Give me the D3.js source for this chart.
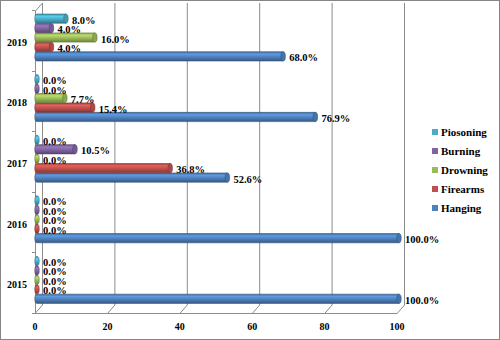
<!DOCTYPE html>
<html>
<head>
<meta charset="utf-8">
<script src="https://cdn.jsdelivr.net/npm/d3@7"></script>
<style>
  body { margin: 0; background: #fff; }
  svg { display: block; }
  text { font-family: "Liberation Serif", "Times New Roman", serif; font-weight: bold; fill: #000; }
</style>
</head>
<body>
<svg id="svg" width="500" height="340"></svg>
<script>
// データ
const years = ["2015", "2016", "2017", "2018", "2019"];
const seriesNames = ["Hanging", "Firearms", "Drowning", "Burning", "Piosoning"];
const hanging = [100.0, 100.0, 52.6, 76.9, 68.0];
const firearms = [0.0, 0.0, 36.8, 15.4, 4.0];
const drowning = [0.0, 0.0, 0.0, 7.7, 16.0];
const burning = [0.0, 0.0, 10.5, 0.0, 4.0];
const piosoning = [0.0, 0.0, 0.0, 0.0, 8.0];
const xTicks = [0, 20, 40, 60, 80, 100];
const colors = ["#4F81BD", "#C0504D", "#9BBB59", "#8064A2", "#4BACC6"];

const values = [hanging, firearms, drowning, burning, piosoning];

const svg = d3.select("#svg");
const W = 500, H = 340;
// 奥行きのずれ
const depthX = 7, depthY = -8;

// 外枠
svg.append("rect")
  .attr("x", 0.5).attr("y", 0.5)
  .attr("width", W - 1).attr("height", H - 1)
  .attr("fill", "white")
  .attr("stroke", "#868686");

// スケール
const xAxisScale = d3.scaleLinear().domain([0, 100]).range([35, 397]);
const xBar = d3.scaleLinear().domain([0, 100]).range([37, 399]);
const y = d3.scaleBand().domain(years.slice().reverse()).range([10, 313]);
const ySeries = d3.scaleBand()
  .domain(seriesNames.slice().reverse())
  .range([4, 51])
  .paddingInner(0.02);

const floorY = 313;
const topY = 11;

// グラデーション
const defs = svg.append("defs");
colors.forEach((c, i) => {
  const base = d3.color(c);
  const g = defs.append("linearGradient")
    .attr("id", "grad" + i)
    .attr("x1", 0).attr("y1", 0).attr("x2", 0).attr("y2", 1);
  g.append("stop").attr("offset", "0%").attr("stop-color", base.darker(0.5));
  g.append("stop").attr("offset", "25%").attr("stop-color", base.brighter(0.5));
  g.append("stop").attr("offset", "55%").attr("stop-color", base);
  g.append("stop").attr("offset", "100%").attr("stop-color", base.darker(1.0));
});

// 目盛線（奥の壁）
const grid = svg.append("g").attr("stroke", "#8c8c8c").attr("fill", "none");
xTicks.forEach((t) => {
  const fx = xAxisScale(t);
  grid.append("path")
    .attr("d", `M ${fx + 0.5} ${floorY} L ${fx + depthX + 0.5} ${floorY + depthY} L ${fx + depthX + 0.5} ${topY + depthY}`);
});
// 左の壁
grid.append("path")
  .attr("d", `M ${xAxisScale(0) + 0.5} ${floorY} L ${xAxisScale(0) + 0.5} ${topY} L ${xAxisScale(0) + depthX + 0.5} ${topY + depthY}`);
// 床の手前の線
grid.append("path")
  .attr("d", `M ${xAxisScale(0)} ${floorY + 0.5} L ${xAxisScale(100) + 0.5} ${floorY + 0.5}`);
// 縦軸の目盛
years.forEach((yr) => {
  const yy = Math.round(y(yr)) + 0.5;
  grid.append("path").attr("d", `M ${xAxisScale(0) - 3} ${yy} L ${xAxisScale(0)} ${yy}`);
});
grid.append("path").attr("d", `M ${xAxisScale(0) - 3} ${floorY + 0.5} L ${xAxisScale(0)} ${floorY + 0.5}`);

// 円柱の描画
const bars = svg.append("g");
const labels = svg.append("g").style("font-size", "10.5px");
years.forEach((yr, yi) => {
  seriesNames.forEach((s, si) => {
    const v = values[si][yi];
    const top = y(yr) + ySeries(s);
    const h = ySeries.bandwidth();
    const ry = h / 2;
    const rx = 2.2;
    const x0 = xBar(0);
    const x1 = xBar(v);
    const g = bars.append("g");
    if (v > 0) {
      g.append("path")
        .attr("d", `M ${x0} ${top} L ${x1} ${top} L ${x1} ${top + h} L ${x0} ${top + h} A ${rx} ${ry} 0 0 1 ${x0} ${top} Z`)
        .attr("fill", `url(#grad${si})`)
        .attr("stroke", d3.color(colors[si]).darker(1.2))
        .attr("stroke-width", 0.6);
    }
    // 端のふた
    g.append("ellipse")
      .attr("cx", x1).attr("cy", top + ry)
      .attr("rx", rx).attr("ry", ry)
      .attr("fill", v > 0 ? d3.color(colors[si]).darker(0.3) : `url(#grad${si})`)
      .attr("stroke", d3.color(colors[si]).darker(1.2))
      .attr("stroke-width", 0.6);
    labels.append("text")
      .attr("x", x1 + 6)
      .attr("y", top + ry + 5)
      .text(v.toFixed(1) + "%");
  });
});

// 縦軸ラベル
svg.append("g").style("font-size", "10px")
  .selectAll("text").data(years).join("text")
  .attr("x", 27)
  .attr("y", (d) => y(d) + y.bandwidth() / 2 + 5.5)
  .attr("text-anchor", "end")
  .text((d) => d);

// 横軸ラベル
svg.append("g").style("font-size", "10px")
  .selectAll("text").data(xTicks).join("text")
  .attr("x", (d) => xAxisScale(d))
  .attr("y", 330)
  .attr("text-anchor", "middle")
  .text((d) => d);

// 凡例
const legend = svg.append("g").style("font-size", "11px");
seriesNames.slice().reverse().forEach((s, i) => {
  const si = seriesNames.indexOf(s);
  const ly = 132 + i * 19;
  legend.append("rect")
    .attr("x", 432).attr("y", ly - 3)
    .attr("width", 6).attr("height", 6)
    .attr("fill", colors[si]);
  legend.append("text")
    .attr("x", 441).attr("y", ly + 4)
    .text(s);
});
</script>
</body>
</html>
